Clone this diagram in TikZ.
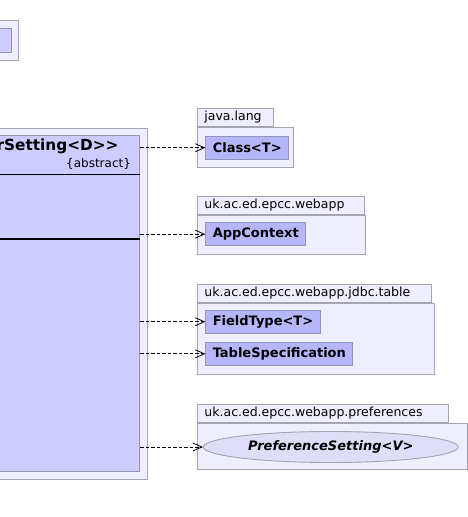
\documentclass[tikz,border=0pt]{standalone}
\usepackage{fontspec}
\setmainfont{DejaVu Sans}
\usetikzlibrary{arrows.meta,shapes.geometric}

\definecolor{pkgfill}{HTML}{EEEEFF}
\definecolor{pkgline}{HTML}{A4A4B4}
\definecolor{clsfill}{HTML}{CCCCFF}
\definecolor{clsline}{HTML}{9494B4}
\definecolor{reffill}{HTML}{B6B6FA}
\definecolor{ifcfill}{HTML}{DEDEF8}

\begin{document}
\begin{tikzpicture}[
    x=1pt, y=-1pt,
    font=\fontsize{12.5}{15}\selectfont,
    pkgbody/.style={draw=pkgline, fill=pkgfill, line width=0.9pt, rectangle,
      anchor=north west, inner sep=0pt},
    pkgtab/.style={draw=pkgline, fill=pkgfill, line width=0.9pt, rectangle,
      anchor=south west, inner xsep=7pt, inner ysep=0pt, minimum height=18.3pt, align=left},
    clsbox/.style={draw=clsline, fill=clsfill, line width=0.9pt, rectangle, inner sep=0pt},
    refbox/.style={draw=clsline, fill=reffill, line width=0.9pt, rectangle, anchor=west,
      inner xsep=7pt, minimum height=23pt, font=\fontsize{13}{15}\selectfont\bfseries},
    dep/.style={draw=black, line width=0.8pt, dash pattern=on 3.5pt off 2pt,
      -{Straight Barb[length=9pt,width=8pt]}},
]

\useasboundingbox (0,0) rectangle (468,517);
\clip (0,0) rectangle (468,517);

% Top left package
\node[pkgbody, minimum width=28.3pt, minimum height=40.3pt] (toppkg) at (-10,20) {};
\node[clsbox, anchor=north west, minimum width=20.7pt, minimum height=24pt] (topcls) at (-10,28.3) {};

% Main package and class
\node[pkgbody, minimum width=157.3pt, minimum height=351.5pt] (mainpkg) at (-10,127.5) {};
\node[clsbox, anchor=north west, minimum width=149.3pt, minimum height=335.7pt] (setting) at (-10,135) {};
\node[font=\fontsize{15.3}{17}\selectfont\bfseries, anchor=east] (settingname) at (122,146.5) {rSetting<D>\kern0pt>};
\node[font=\fontsize{12}{14}\selectfont, anchor=east] (abstract) at (134.5,164) {\{abstract\}};
\draw[black, line width=0.8pt] (setting.west |- 0,174) -- (setting.east |- 0,174);
\draw[black, line width=1.8pt] (setting.west |- 0,239) -- (setting.east |- 0,239);

% java.lang
\node[pkgbody, minimum width=96.3pt, minimum height=40pt] (langpkg) at (197,126.8) {};
\node[pkgtab, text width=62pt] (langtab) at (langpkg.north west) {java.lang};
\node[refbox] (classT) at (205.3,147.7) {Class<T>};

% uk.ac.ed.epcc.webapp
\node[pkgbody, minimum width=168.3pt, minimum height=39pt] (webpkg) at (197,215) {};
\node[pkgtab, text width=153pt] (webtab) at (webpkg.north west) {uk.ac.ed.epcc.webapp};
\node[refbox] (appctx) at (205.3,234.2) {AppContext};

% uk.ac.ed.epcc.webapp.jdbc.table
\node[pkgbody, minimum width=237pt, minimum height=71.3pt] (tablepkg) at (197,302.7) {};
\node[pkgtab, text width=220pt] (tabletab) at (tablepkg.north west) {uk.ac.ed.epcc.webapp.jdbc.table};
\node[refbox] (fieldtype) at (205.3,321.7) {FieldType<T>};
\node[refbox] (tablespec) at (205.3,353.8) {TableSpecification};

% uk.ac.ed.epcc.webapp.preferences
\node[pkgbody, minimum width=269.7pt, minimum height=46.6pt] (prefpkg) at (197,422.7) {};
\node[pkgtab, text width=237.3pt] (preftab) at (prefpkg.north west) {uk.ac.ed.epcc.webapp.preferences};
\node[ellipse, draw=pkgline, fill=ifcfill, line width=0.9pt, minimum width=255pt, minimum height=31pt,
      font=\fontsize{13}{15}\selectfont\bfseries\itshape] (prefset) at (330.8,447) {PreferenceSetting<V>};

% Dependencies
\foreach \target in {classT, appctx, fieldtype, tablespec} {
    \draw[dep] (setting.east |- \target.west) -- (\target.west);
}
\draw[dep] (setting.east |- prefset.west) -- (prefset.west);

\end{tikzpicture}
\end{document}
